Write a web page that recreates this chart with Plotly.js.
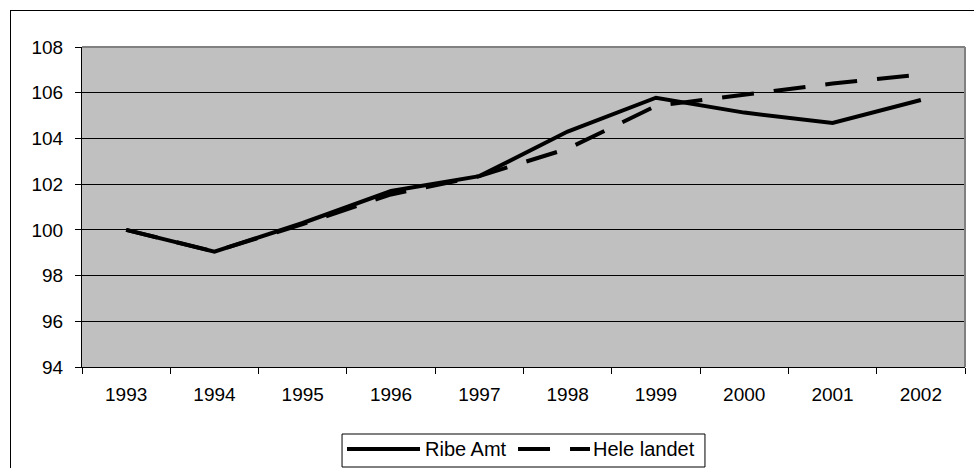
<!DOCTYPE html>
<html>
<head>
<meta charset="utf-8">
<script src="https://cdn.plot.ly/plotly-3.0.1.min.js"></script>
<style>
  html, body { margin: 0; padding: 0; overflow: hidden; background: #fff; }
  #wrap { position: relative; width: 974px; height: 468px; }
  #frame { position: absolute; left: 10px; top: 10px; width: 1000px; height: 500px;
           border-left: 1px solid #000; border-top: 1px solid #000; pointer-events: none; }
</style>
</head>
<body>
<div id="wrap">
  <div id="graph" style="width:974px;height:468px;"></div>
  <div id="frame"></div>
</div>
<script>
const years = ["1993", "1994", "1995", "1996", "1997", "1998", "1999", "2000", "2001", "2002"];
const ribeAmt = [100, 99.05, 100.3, 101.7, 102.35, 104.3, 105.78, 105.13, 104.68, 105.68];
const heleLandet = [100, 99.05, 100.25, 101.55, 102.35, 103.55, 105.42, 105.9, 106.4, 106.8];
const seriesNames = ["Ribe Amt", "Hele landet"];
const yTicks = [94, 96, 98, 100, 102, 104, 106, 108];

const font = { family: "Liberation Sans, Arial, sans-serif", size: 19, color: "#000" };
const legendFont = { family: "Liberation Sans, Arial, sans-serif", size: 20, color: "#000" };
const solid = { color: "#000", width: 4 };
const dashed = { color: "#000", width: 4, dash: "32px,20px" };

const data = [
    { x: years, y: ribeAmt, type: "scatter", mode: "lines", name: seriesNames[0], line: solid },
    { x: years, y: heleLandet, type: "scatter", mode: "lines", name: seriesNames[1], line: dashed },
];

// legend drawn by hand so the sample lines are as long as in the original (Excel style)
const legendShapes = [
    { type: "rect", xref: "paper", yref: "paper", x0: 0.2945, x1: 0.7055, y0: -0.2094, y1: -0.3125,
      line: { color: "#000", width: 1 }, fillcolor: "#fff" },
    { type: "line", xref: "paper", yref: "paper", x0: 0.3001, x1: 0.3828, y0: -0.2563, y1: -0.2563, line: solid },
    { type: "line", xref: "paper", yref: "paper", x0: 0.4938, x1: 0.5753, y0: -0.2563, y1: -0.2563, line: dashed },
];
const legendText = [
    { text: seriesNames[0], x: 0.3862 },
    { text: seriesNames[1], x: 0.5765 },
].map(t => ({
    text: t.text, x: t.x, y: -0.2563, xref: "paper", yref: "paper",
    xanchor: "left", yanchor: "middle", showarrow: false, font: legendFont,
}));

const layout = {
    width: 974,
    height: 468,
    margin: { l: 82, r: 9, t: 47, b: 101 },
    paper_bgcolor: "#fff",
    plot_bgcolor: "#c0c0c0",
    font: font,
    showlegend: false,
    xaxis: {
        type: "category",
        range: [-0.5, 9.5],
        tickson: "boundaries",
        ticks: "outside",
        ticklen: 6,
        tickcolor: "#000",
        showline: true,
        linecolor: "#000",
        linewidth: 1,
        showgrid: false,
        ticklabelstandoff: 10,
        tickfont: font,
        fixedrange: true,
    },
    yaxis: {
        range: [94, 108],
        tickvals: yTicks,
        ticktext: yTicks.map(String),
        ticks: "outside",
        ticklen: 6,
        tickcolor: "#000",
        showline: true,
        linecolor: "#000",
        linewidth: 1,
        showgrid: true,
        gridcolor: "#000",
        gridwidth: 1,
        zeroline: false,
        ticklabelstandoff: 8,
        tickfont: font,
        fixedrange: true,
    },
    shapes: [
        { type: "line", xref: "paper", yref: "paper", x0: 0, x1: 1, y0: 1, y1: 1,
          line: { color: "#808080", width: 2 } },
        { type: "line", xref: "paper", yref: "paper", x0: 1, x1: 1, y0: 0, y1: 1,
          line: { color: "#808080", width: 2 } },
        ...legendShapes,
    ],
    annotations: legendText,
};

Plotly.newPlot("graph", data, layout, { displayModeBar: false, staticPlot: true });
</script>
</body>
</html>
